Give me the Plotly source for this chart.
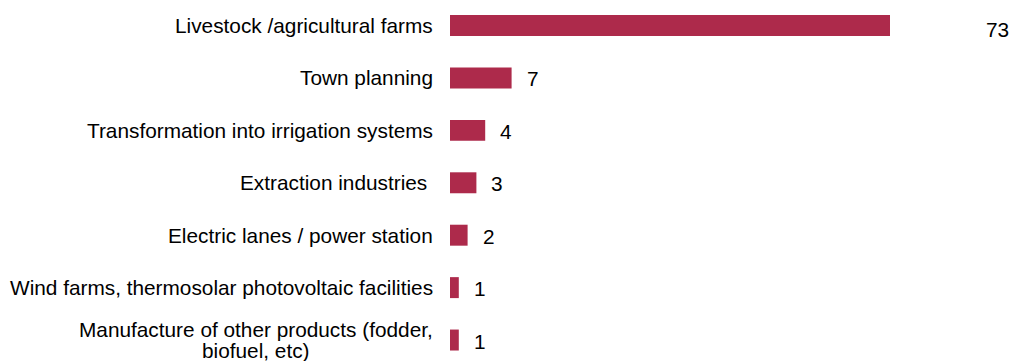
import plotly.graph_objects as go

categories = [
    "Livestock /agricultural farms",
    "Town planning",
    "Transformation into irrigation systems",
    "Extraction industries ",
    "Electric lanes / power station",
    "Wind farms, thermosolar photovoltaic facilities",
    "Manufacture of other products (fodder,<br>biofuel, etc)",
]
values = [73, 7, 4, 3, 2, 1, 1]
value_labels = ["73", "7", "4", "3", "2", "1", "1"]

BAR_COLOR = "#AD2A4B"
FONT = "Liberation Sans, Arial, sans-serif"
FS = 20.8
X_MAX = 50
LINE_H = 21  # tight line height of the wrapped label

fig = go.Figure()
fig.add_trace(go.Bar(
    y=list(range(len(categories))),
    x=values,
    orientation="h",
    marker=dict(color=BAR_COLOR, line=dict(width=0)),
    width=0.4,
    hoverinfo="skip",
))

annotations = []
for i, (cat, v, lab) in enumerate(zip(categories, values, value_labels)):
    lines = cat.split("<br>")
    if len(lines) == 1:
        annotations.append(dict(
            x=0, y=i, xref="x", yref="y", text=cat, showarrow=False,
            xanchor="right", yanchor="middle", xshift=-15,
            font=dict(family=FONT, size=FS, color="#000"),
        ))
    else:
        annotations.append(dict(
            x=0, y=i, xref="x", yref="y", text=lines[0], showarrow=False,
            xanchor="right", yanchor="middle", xshift=-15, yshift=LINE_H / 2,
            font=dict(family=FONT, size=FS, color="#000"),
        ))
        for k, ln in enumerate(lines[1:], start=1):
            annotations.append(dict(
                x=0, y=i, xref="x", yref="y", text=ln, showarrow=False,
                xanchor="center", yanchor="middle", xshift=-194,
                yshift=LINE_H / 2 - k * LINE_H,
                font=dict(family=FONT, size=FS, color="#000"),
            ))
    if v > X_MAX:
        annotations.append(dict(
            x=1, y=i, xref="paper", yref="y", text=lab, showarrow=False,
            xanchor="left", yanchor="middle", xshift=94, yshift=-4,
            font=dict(family=FONT, size=FS, color="#000"),
        ))
    else:
        annotations.append(dict(
            x=v, y=i, xref="x", yref="y", text=lab, showarrow=False,
            xanchor="left", yanchor="middle", xshift=13, yshift=-1,
            font=dict(family=FONT, size=FS, color="#000"),
        ))

fig.update_layout(
    width=1013, height=361,
    margin=dict(l=450, r=123, t=0, b=0),
    paper_bgcolor="white", plot_bgcolor="white",
    showlegend=False,
    annotations=annotations,
    xaxis=dict(range=[0, X_MAX], visible=False, fixedrange=True),
    yaxis=dict(range=[6.40, -0.487], visible=False, fixedrange=True),
)

fig.write_html(
    "out.html",
    config={"displayModeBar": False},
    post_script="document.body.style.margin='0';document.body.style.overflow='hidden';",
)
